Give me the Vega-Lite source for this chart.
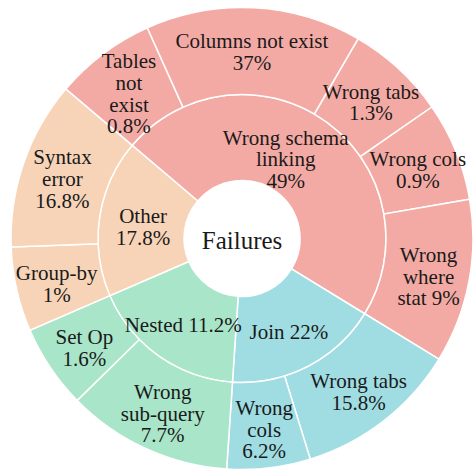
{
  "$schema": "https://vega.github.io/schema/vega-lite/v6.json",
  "width": 464,
  "height": 465,
  "autosize": {"type": "none"},
  "padding": {"left": 10, "top": 6, "right": 0, "bottom": 0},
  "background": "white",
  "config": {"view": {"stroke": null}, "text": {"font": "Liberation Serif", "fontSize": 21, "lineHeight": 21.7, "lineBreak": "\n", "fill": "#1a1a1a", "align": "center", "baseline": "middle"}},
  "datasets": {
    "inner": [
      {"idx": 1, "group": "Wrong schema linking", "label": "Wrong schema\nlinking\n49%", "value": 171.2},
      {"idx": 2, "group": "Join", "label": "Join 22%", "value": 62.3},
      {"idx": 3, "group": "Nested", "label": "Nested 11.2%", "value": 62.8},
      {"idx": 4, "group": "Other", "label": "Other\n17.8%", "value": 63.7}
    ],
    "outer": [
      {"idx": 1, "group": "Wrong schema linking", "label": "Tables\nnot\nexist\n0.8%", "value": 25.5},
      {"idx": 2, "group": "Wrong schema linking", "label": "Columns not exist\n37%", "value": 54.4},
      {"idx": 3, "group": "Wrong schema linking", "label": "Wrong tabs\n1.3%", "value": 25.1},
      {"idx": 4, "group": "Wrong schema linking", "label": "Wrong cols\n0.9%", "value": 24.9},
      {"idx": 5, "group": "Wrong schema linking", "label": "Wrong\nwhere\nstat 9%", "value": 41.3},
      {"idx": 6, "group": "Join", "label": "Wrong tabs\n15.8%", "value": 41.3},
      {"idx": 7, "group": "Join", "label": "Wrong\ncols\n6.2%", "value": 21.0},
      {"idx": 8, "group": "Nested", "label": "Wrong\nsub-query\n7.7%", "value": 41.7},
      {"idx": 9, "group": "Nested", "label": "Set Op\n1.6%", "value": 21.1},
      {"idx": 10, "group": "Other", "label": "Group-by\n1%", "value": 21.3},
      {"idx": 11, "group": "Other", "label": "Syntax\nerror\n16.8%", "value": 42.4}
    ],
    "center": [{"label": "Failures", "value": 360}]
  },
  "layer": [
    {
      "data": {"name": "inner"},
      "mark": {"type": "arc", "radius": 144, "radius2": 58, "stroke": "white", "strokeWidth": 1.5},
      "encoding": {
        "theta": {"field": "value", "type": "quantitative", "stack": true, "scale": {"domain": [0, 360], "range": [5.4158, 11.6990]}},
        "order": {"field": "idx", "type": "quantitative"},
        "color": {"field": "group", "type": "nominal", "legend": null, "scale": {"domain": ["Wrong schema linking", "Join", "Nested", "Other"], "range": ["#F4AAA4", "#9FDDE3", "#A9E5C9", "#F7D4B8"]}}
      }
    },
    {
      "data": {"name": "outer"},
      "mark": {"type": "arc", "radius": 231, "radius2": 144, "stroke": "white", "strokeWidth": 1.5},
      "encoding": {
        "theta": {"field": "value", "type": "quantitative", "stack": true},
        "order": {"field": "idx", "type": "quantitative"},
        "color": {"field": "group", "type": "nominal", "legend": null}
      }
    },
    {
      "data": {"name": "inner"},
      "mark": {"type": "text", "radius": 102, "dy": 4},
      "encoding": {
        "theta": {"field": "value", "type": "quantitative", "stack": true},
        "order": {"field": "idx", "type": "quantitative"},
        "text": {"condition": {"test": "split(datum.label, '\\n').length == 1", "field": "label"}, "value": ""}
      }
    },
    {
      "data": {"name": "inner"},
      "mark": {"type": "text", "radius": 100, "dy": -6.85},
      "encoding": {
        "theta": {"field": "value", "type": "quantitative", "stack": true},
        "order": {"field": "idx", "type": "quantitative"},
        "text": {"condition": {"test": "split(datum.label, '\\n').length == 2", "field": "label"}, "value": ""}
      }
    },
    {
      "data": {"name": "inner"},
      "mark": {"type": "text", "radius": 100, "dy": -18.7, "dx": -15},
      "encoding": {
        "theta": {"field": "value", "type": "quantitative", "stack": true},
        "order": {"field": "idx", "type": "quantitative"},
        "text": {"condition": {"test": "split(datum.label, '\\n').length == 3", "field": "label"}, "value": ""}
      }
    },
    {
      "data": {"name": "outer"},
      "mark": {"type": "text", "radius": 190, "dy": -6.35},
      "encoding": {
        "theta": {"field": "value", "type": "quantitative", "stack": true},
        "order": {"field": "idx", "type": "quantitative"},
        "text": {"condition": {"test": "split(datum.label, '\\n').length == 2", "field": "label"}, "value": ""}
      }
    },
    {
      "data": {"name": "outer"},
      "mark": {"type": "text", "radius": 190, "dy": -18.2},
      "encoding": {
        "theta": {"field": "value", "type": "quantitative", "stack": true},
        "order": {"field": "idx", "type": "quantitative"},
        "text": {"condition": {"test": "split(datum.label, '\\n').length == 3", "field": "label"}, "value": ""}
      }
    },
    {
      "data": {"name": "outer"},
      "mark": {"type": "text", "radius": 188, "dy": -26.05},
      "encoding": {
        "theta": {"field": "value", "type": "quantitative", "stack": true},
        "order": {"field": "idx", "type": "quantitative"},
        "text": {"condition": {"test": "split(datum.label, '\\n').length == 4", "field": "label"}, "value": ""}
      }
    },
    {
      "data": {"name": "center"},
      "mark": {"type": "text", "radius": 0, "fontSize": 25, "dy": 2},
      "encoding": {
        "theta": {"field": "value", "type": "quantitative", "stack": true},
        "text": {"field": "label"}
      }
    }
  ]
}
